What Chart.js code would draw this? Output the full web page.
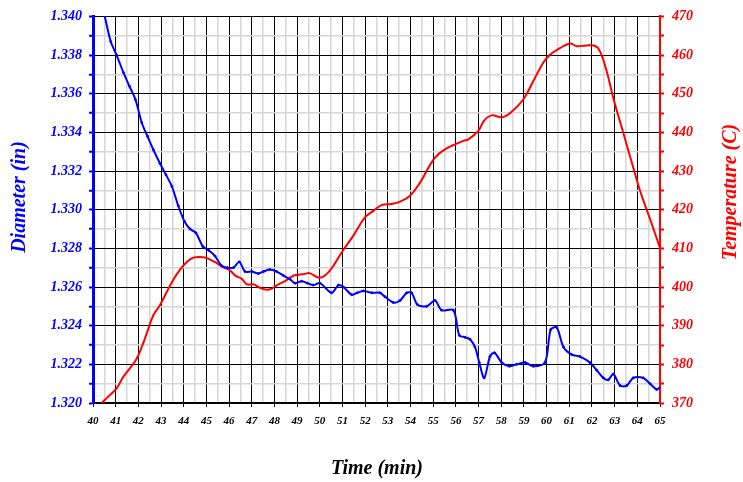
<!DOCTYPE html>
<html>
<head>
<meta charset="utf-8">
<title>Diameter and Temperature vs Time</title>
<style>
  html, body { margin: 0; padding: 0; background: #fff; }
  #wrap { width: 743px; height: 482px; }
</style>
</head>
<body>
<div id="wrap"><canvas id="chart" width="743" height="482"></canvas></div>
<script src="https://cdn.jsdelivr.net/npm/chart.js@4.4.1/dist/chart.umd.min.js"></script>
<script>
// Diameter series (in)
const diamTimes = [
  40.52, 40.78, 41.04, 41.34, 41.60, 41.87, 42.15, 42.40, 42.66, 42.95,
  43.22, 43.48, 43.76, 44.03, 44.28, 44.54, 44.84, 45.10, 45.38, 45.67,
  45.92, 46.19, 46.45, 46.70, 47.00, 47.29, 47.51, 47.80, 48.10, 48.39,
  48.69, 48.91, 49.20, 49.45, 49.71, 50.01, 50.52, 50.82, 51.04, 51.41,
  51.65, 51.92, 52.29, 52.65, 52.87, 53.24, 53.54, 53.83, 54.05, 54.30,
  54.71, 55.08, 55.37, 55.89, 56.15, 56.40, 56.62, 56.84, 57.03, 57.25,
  57.50, 57.70, 58.02, 58.36, 58.68, 59.05, 59.41, 59.93, 60.18, 60.45,
  60.74, 61.11, 61.47, 61.91, 62.21, 62.50, 62.72, 62.94, 63.24, 63.53,
  63.82, 64.26, 64.56, 64.85, 65.00
];
const diamValues = [
  1.3400, 1.3387, 1.3380, 1.3371, 1.3364, 1.3357, 1.3345, 1.3338, 1.3331, 1.3324,
  1.3318, 1.3312, 1.3302, 1.3294, 1.3290, 1.3288, 1.3281, 1.3279, 1.3276, 1.3271,
  1.3270, 1.3270, 1.3273, 1.3268, 1.3268, 1.3267, 1.3268, 1.3269, 1.3268, 1.3266,
  1.3264, 1.3262, 1.3263, 1.3262, 1.3261, 1.3262, 1.3257, 1.3261, 1.3260, 1.3256,
  1.3257, 1.3258, 1.3257, 1.3257, 1.3255, 1.3252, 1.3253, 1.3257, 1.3257, 1.3251,
  1.3250, 1.3253, 1.3248, 1.3248, 1.3235, 1.3234, 1.3233, 1.3229, 1.3221, 1.3213,
  1.3224, 1.3226, 1.3221, 1.3219, 1.3220, 1.3221, 1.3219, 1.3221, 1.3238, 1.3239,
  1.3229, 1.3225, 1.3224, 1.3221, 1.3217, 1.3213, 1.3212, 1.3215, 1.3209, 1.3209,
  1.3213, 1.3213, 1.3210, 1.3207, 1.3208
];

// Temperature series (C)
const tempTimes = [
  40.38, 40.75, 41.04, 41.34, 41.63, 41.93, 42.15, 42.37, 42.66, 42.95,
  43.25, 43.54, 43.84, 44.13, 44.42, 44.86, 45.16, 45.45, 45.75, 46.04,
  46.26, 46.56, 46.78, 47.07, 47.36, 47.66, 47.88, 48.17, 48.47, 48.76,
  49.05, 49.35, 49.55, 50.01, 50.45, 50.97, 51.48, 51.99, 52.36, 52.73,
  53.17, 53.54, 53.98, 54.42, 55.08, 55.67, 55.96, 56.33, 56.55, 56.99,
  57.24, 57.58, 58.02, 58.41, 58.97, 59.41, 59.85, 60.15, 60.59, 61.03,
  61.33, 61.77, 62.13, 62.35, 62.65, 62.94, 63.38, 63.82, 64.12, 64.56,
  65.00
];
const tempValues = [
  370.0, 372.1, 373.8, 376.8, 379.0, 381.5, 384.5, 388.0, 392.7, 395.3,
  398.7, 401.9, 404.5, 406.4, 407.6, 407.7, 407.1, 406.2, 405.1, 404.3,
  403.0, 402.1, 400.7, 400.7, 399.8, 399.3, 399.6, 400.7, 401.5, 402.7,
  403.2, 403.4, 403.6, 402.4, 404.3, 409.0, 413.3, 418.0, 419.7, 421.2,
  421.5, 422.1, 423.6, 427.0, 433.5, 436.1, 436.9, 437.8, 438.2, 440.4,
  443.0, 444.4, 443.9, 445.1, 448.5, 453.2, 458.0, 460.1, 461.8, 463.0,
  462.3, 462.5, 462.4, 461.0, 455.8, 448.9, 439.9, 430.9, 424.9, 417.6,
  410.1
];

// Axis ranges
const timeRange = [40, 65];
const diamRange = [1.320, 1.340];
const tempRange = [370, 470];

const BLUE = '#0000ff';
const RED = '#ff0000';
const MINOR = '#d6d6d6';
const SERIF = '"Liberation Serif", "Times New Roman", serif';

function pairs(xs, ys) {
  return xs.map((x, i) => ({ x: x, y: ys[i] }));
}

function isWhole(v) {
  return Math.abs(v - Math.round(v)) < 1e-6;
}

// Axis titles (right one reads bottom-to-top, which the built-in title can't do)
const axisTitles = {
  id: 'axisTitles',
  afterDraw(chart) {
    const ctx = chart.ctx;
    ctx.save();
    ctx.font = 'italic bold 20px ' + SERIF;
    ctx.textAlign = 'center';
    ctx.textBaseline = 'middle';

    ctx.fillStyle = '#000';
    ctx.fillText('Time (min)', 377, 469);

    ctx.save();
    ctx.translate(20, 197);
    ctx.rotate(-Math.PI / 2);
    ctx.fillStyle = BLUE;
    ctx.fillText('Diameter (in)', 0, 0);
    ctx.restore();

    ctx.save();
    ctx.translate(731, 192);
    ctx.rotate(-Math.PI / 2);
    ctx.fillStyle = RED;
    ctx.fillText('Temperature (C)', 0, 0);
    ctx.restore();

    ctx.restore();
  }
};

new Chart(document.getElementById('chart'), {
  type: 'line',
  data: {
    datasets: [
      {
        label: 'Diameter',
        data: pairs(diamTimes, diamValues),
        yAxisID: 'y',
        borderColor: BLUE,
        backgroundColor: BLUE,
        borderWidth: 2,
        pointRadius: 1,
        pointBorderWidth: 1,
        tension: 0.3
      },
      {
        label: 'Temperature',
        data: pairs(tempTimes, tempValues),
        yAxisID: 'y1',
        borderColor: RED,
        backgroundColor: RED,
        borderWidth: 2,
        pointRadius: 0,
        tension: 0.4
      }
    ]
  },
  options: {
    responsive: false,
    animation: false,
    devicePixelRatio: 1,
    layout: { padding: { top: 15, left: 0, right: 0, bottom: 0 } },
    plugins: {
      legend: { display: false },
      tooltip: { enabled: false }
    },
    scales: {
      x: {
        type: 'linear',
        min: timeRange[0],
        max: timeRange[1],
        afterFit: s => { s.height = 79; },
        border: { color: '#000', width: 2 },
        grid: {
          color: c => {
            const v = c.tick.value;
            if (v === timeRange[0] || v === timeRange[1]) return 'rgba(0,0,0,0)';
            return isWhole(v) ? '#000' : MINOR;
          },
          lineWidth: c => isWhole(c.tick.value) ? 1 : 1.5,
          tickColor: c => isWhole(c.tick.value) ? '#000' : 'rgba(0,0,0,0)',
          tickLength: 4,
          tickWidth: 1
        },
        ticks: {
          stepSize: 0.5,
          autoSkip: false,
          maxRotation: 0,
          padding: 8,
          color: '#000',
          font: { family: SERIF, size: 11, style: 'italic', weight: 'bold' },
          callback: v => isWhole(v) ? String(Math.round(v)) : ''
        }
      },
      y: {
        type: 'linear',
        position: 'left',
        min: diamRange[0],
        max: diamRange[1],
        afterFit: s => { s.width = 93; },
        border: { color: BLUE, width: 3 },
        grid: {
          color: c => {
            const k = Math.round(c.tick.value * 1000);
            if (k === 1320) return 'rgba(0,0,0,0)';
            return k % 2 === 0 ? '#000' : MINOR;
          },
          lineWidth: c => Math.round(c.tick.value * 1000) % 2 === 0 ? 1 : 1.5,
          tickColor: BLUE,
          tickLength: 4,
          tickWidth: 2
        },
        ticks: {
          stepSize: 0.001,
          autoSkip: false,
          padding: 7,
          color: BLUE,
          font: { family: SERIF, size: 14, style: 'italic', weight: 'bold' },
          callback: v => Math.round(v * 1000) % 2 === 0 ? v.toFixed(3) : ''
        }
      },
      y1: {
        type: 'linear',
        position: 'right',
        min: tempRange[0],
        max: tempRange[1],
        afterFit: s => { s.width = 83; },
        border: { color: RED, width: 2 },
        grid: {
          drawOnChartArea: false,
          tickColor: RED,
          tickLength: 4,
          tickWidth: 2
        },
        ticks: {
          stepSize: 5,
          autoSkip: false,
          padding: 8,
          color: RED,
          font: { family: SERIF, size: 14, style: 'italic', weight: 'bold' },
          callback: v => v % 10 === 0 ? String(v) : ''
        }
      }
    }
  },
  plugins: [axisTitles]
});
</script>
</body>
</html>
